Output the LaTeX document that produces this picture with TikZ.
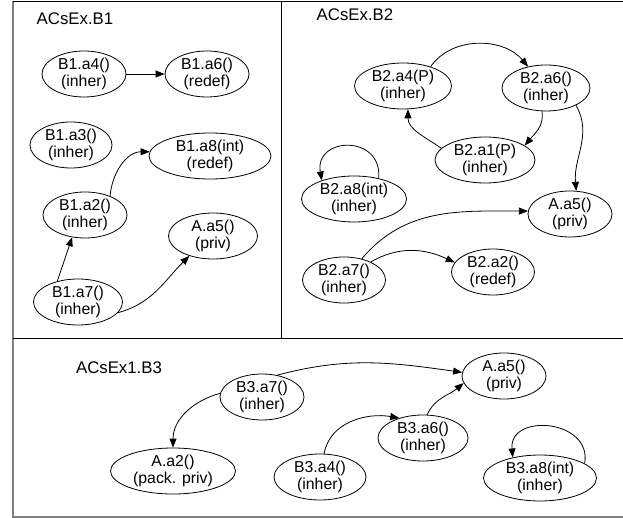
\documentclass[tikz,border=0pt]{standalone}
\usepackage{fontspec}
\setmainfont{Liberation Sans}
\usetikzlibrary{shapes.geometric,arrows.meta}

\begin{document}
\begin{tikzpicture}[x=1pt,y=1pt,
  meth/.style={ellipse, draw, line width=0.8pt, inner xsep=0pt, inner ysep=-1.2pt,
    align=center, minimum width=84pt, minimum height=46pt,
    font=\fontsize{15.8}{17.8}\selectfont},
  call/.style={line width=0.8pt, -{Triangle[length=9pt,width=7pt]}},
  boxname/.style={font=\fontsize{16.8}{19}\selectfont}]
  \useasboundingbox (0,0) rectangle (623,-518);
  % frame and the three boxes
  \draw[gray, line width=1.6pt] (13,-1) -- (13,-517) -- (623,-517);
  \draw[line width=0.8pt] (13,-1) -- (623,-1);
  \draw[line width=0.8pt] (281,-1) -- (281,-338);
  \draw[line width=0.8pt] (13,-338) -- (623,-338);
  \node[boxname] (tb1) at (75,-19) {ACsEx.B1};
  \node[boxname] (tb2) at (355,-15) {ACsEx.B2};
  \node[boxname] (tb3) at (119,-368) {ACsEx1.B3};

  % ACsEx.B1
  \node[meth] (b1a4) at (84,-74) {B1.a4()\\(inher)};
  \node[meth] (b1a6) at (207,-74) {B1.a6()\\(redef)};
  \node[meth, minimum width=82pt] (b1a3) at (71,-145) {B1.a3()\\(inher)};
  \node[meth, minimum width=122pt] (b1a8) at (210,-156) {B1.a8(int)\\(redef)};
  \node[meth] (b1a2) at (85,-215) {B1.a2()\\(inher)};
  \node[meth, minimum width=89pt] (b1a5) at (213,-236) {A.a5()\\(priv)};
  \node[meth, minimum width=89pt] (b1a7) at (78,-302) {B1.a7()\\(inher)};
  \draw[call] (b1a4) -- (b1a6);
  \draw[call] (b1a2.37) to[out=85,in=180] (b1a8.176);
  \draw[call] (b1a7.135) -- (b1a2.240);
  \draw[call] (b1a7.-15) to[out=15,in=225] (b1a5.220);

  % ACsEx.B2
  \node[meth, minimum width=97pt] (b2a4) at (403,-86) {B2.a4(P)\\(inher)};
  \node[meth, minimum width=88pt] (b2a6) at (546,-88) {B2.a6()\\(inher)};
  \node[meth, minimum width=100pt] (b2a1) at (485,-160) {B2.a1(P)\\(inher)};
  \node[meth, minimum width=105pt] (b2a8) at (354,-199) {B2.a8(int)\\(inher)};
  \node[meth] (b2a5) at (570,-214) {A.a5()\\(priv)};
  \node[meth, minimum width=83pt] (b2a7) at (344,-280) {B2.a7()\\(inher)};
  \node[meth, minimum width=83pt] (b2a2) at (493,-272) {B2.a2()\\(redef)};
  \draw[call] (b2a4.35) to[out=55,in=130] (b2a6.130);
  \draw[call] (b2a6.-100) to[out=-80,in=50] (b2a1.20);
  \draw[call] (b2a1.165) to[out=145,in=-90] (b2a4.-78);
  \draw[call] (b2a6.-30) to[out=-60,in=95] (b2a5.75);
  \draw[call] (b2a8.40) to[out=85,in=100,looseness=2] (b2a8.150);
  \draw[call] (b2a7.50) to[out=50,in=180] (b2a5.176);
  \draw[call] (b2a7.34) to[out=30,in=155] (b2a2.166);

  % ACsEx1.B3
  \node[meth] (b3a7) at (262,-397) {B3.a7()\\(inher)};
  \node[meth, minimum width=125pt] (b3a2) at (173,-471) {A.a2()\\(pack. priv)};
  \node[meth] (b3a5) at (504,-376) {A.a5()\\(priv)};
  \node[meth, minimum width=90pt] (b3a6) at (423,-438) {B3.a6()\\(inher)};
  \node[meth, minimum width=92pt] (b3a4) at (320,-477) {B3.a4()\\(inher)};
  \node[meth, minimum width=113pt] (b3a8) at (540,-478) {B3.a8(int)\\(inher)};
  \draw[call] (b3a7.55) to[out=15,in=172] (b3a5.175);
  \draw[call] (b3a7.175) to[out=195,in=90] (b3a2.north);
  \draw[call] (b3a6.80) to[out=65,in=220] (b3a5.190);
  \draw[call] (b3a4.80) to[out=80,in=170] (b3a6.140);
  \draw[call] (b3a8.18) to[out=80,in=95,looseness=1.6] (b3a8.143);
\end{tikzpicture}
\end{document}
